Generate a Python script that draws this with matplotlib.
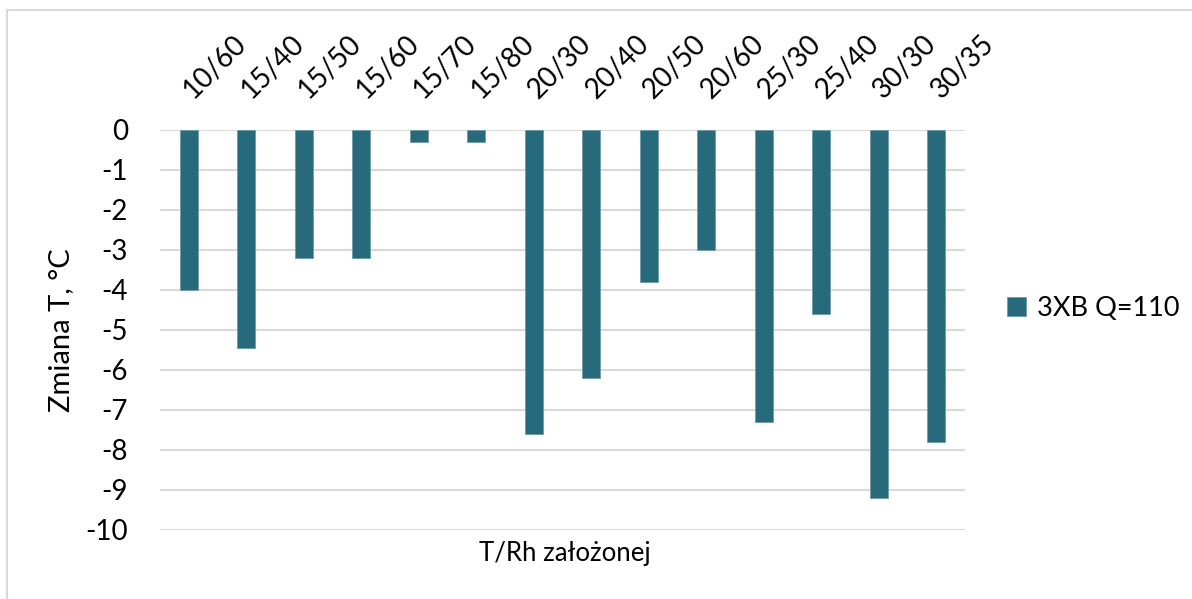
import matplotlib.pyplot as plt
from matplotlib.patches import Patch, Rectangle
from matplotlib.transforms import ScaledTranslation
import numpy as np

plt.rcParams['font.family'] = ['Lato', 'DejaVu Sans']
plt.rcParams['axes.unicode_minus'] = False

categories = ['10/60', '15/40', '15/50', '15/60', '15/70', '15/80', '20/30',
              '20/40', '20/50', '20/60', '25/30', '25/40', '30/30', '30/35']
values = [-4.0, -5.45, -3.2, -3.2, -0.3, -0.3, -7.6,
          -6.2, -3.8, -3.0, -7.3, -4.6, -9.2, -7.8]
series_name = '3XB Q=110'
bar_color = '#276A7B'
grid_color = '#D9D9D9'

W, H = 1192, 599
fig = plt.figure(figsize=(W / 100, H / 100), dpi=100)

# light outer frame, partly running off the right and bottom edges
fig.patches.append(Rectangle((7 / W, -0.05), 1.1, 1 - 10 / H + 0.05,
                             transform=fig.transFigure, fill=False,
                             edgecolor=grid_color, linewidth=1.5))

ax = fig.add_axes([160 / W, 1 - 530 / H, (965 - 160) / W, 400 / H])
x = np.arange(len(categories))
ax.bar(x, values, width=0.31, color=bar_color, edgecolor='#6F9AA6',
       linewidth=0.6, zorder=3)

ax.set_xlim(-0.5, len(categories) - 0.5)
ax.set_ylim(-10, 0)
ax.set_yticks(np.arange(-10, 1, 1))
ax.yaxis.grid(True, color=grid_color, linewidth=1.5, zorder=0)
for s in ax.spines.values():
    s.set_visible(False)

ax.tick_params(axis='y', length=0, pad=23, labelsize=20)
ax.xaxis.tick_top()
ax.set_xticks(x)
ax.set_xticklabels(categories, rotation=45, ha='left', va='baseline',
                   rotation_mode='anchor', fontsize=20)
ax.tick_params(axis='x', length=0, pad=22)
shift = ScaledTranslation(5 / 100, 0, fig.dpi_scale_trans)
for lbl in ax.get_xticklabels():
    lbl.set_transform(lbl.get_transform() + shift)

ax.set_ylabel('Zmiana T, °C', fontsize=21)
ax.yaxis.set_label_coords(61 / W, 1 - 330 / H, transform=fig.transFigure)
ax.yaxis.label.set_va('center')
fig.text(565 / W, 1 - 554 / H, 'T/Rh założonej', fontsize=18.5,
         ha='center', va='center')

fig.legend(handles=[Patch(facecolor=bar_color, edgecolor='#6F9AA6',
                          linewidth=0.6, label=series_name)],
           loc='center left', bbox_to_anchor=(1007 / W, 1 - 308 / H),
           frameon=False, fontsize=19.5, handlelength=0.7, handleheight=0.7,
           handletextpad=0.4, borderpad=0, borderaxespad=0)

fig.savefig('out.png', dpi=100)
